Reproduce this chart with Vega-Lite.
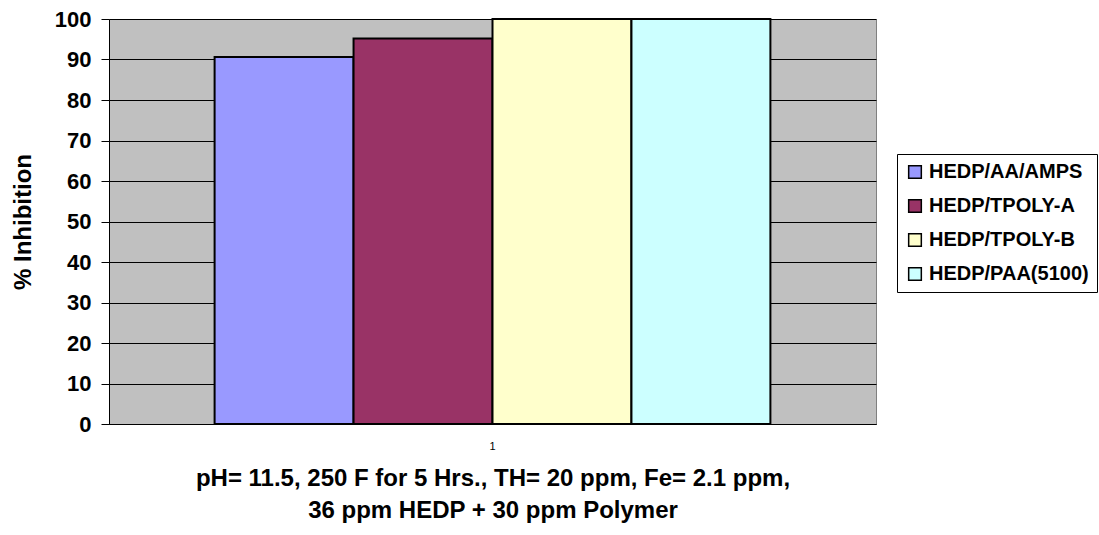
{
  "$schema": "https://vega.github.io/schema/vega-lite/v6.json",
  "width": 767,
  "height": 405,
  "autosize": {"type": "none"},
  "padding": {"left": 109, "top": 19, "right": 223, "bottom": 111},
  "background": "white",
  "config": {
    "view": {"fill": "#C0C0C0", "stroke": "#808080", "strokeWidth": 1},
    "font": "Liberation Sans"
  },
  "data": {
    "values": [
      {"cat": "1", "series": "HEDP/AA/AMPS", "value": 90.6},
      {"cat": "1", "series": "HEDP/TPOLY-A", "value": 95.2},
      {"cat": "1", "series": "HEDP/TPOLY-B", "value": 100},
      {"cat": "1", "series": "HEDP/PAA(5100)", "value": 100}
    ]
  },
  "mark": {"type": "bar", "stroke": "black", "strokeWidth": 2, "strokeJoin": "miter"},
  "encoding": {
    "x": {
      "field": "cat",
      "type": "nominal",
      "scale": {"paddingOuter": 0.19, "paddingInner": 0},
      "axis": {
        "labelAngle": 0,
        "labelFontSize": 11,
        "labelFontWeight": "normal",
        "labelColor": "black",
        "labelPadding": 16,
        "ticks": false,
        "domainColor": "black",
        "title": ["pH= 11.5, 250 F for 5 Hrs., TH= 20 ppm, Fe= 2.1 ppm,", "36 ppm HEDP + 30 ppm Polymer"],
        "titleFontSize": 24,
        "titleFontWeight": "bold",
        "titleColor": "black",
        "titleLineHeight": 32,
        "titlePadding": 15
      }
    },
    "xOffset": {
      "field": "series",
      "type": "nominal",
      "sort": ["HEDP/AA/AMPS", "HEDP/TPOLY-A", "HEDP/TPOLY-B", "HEDP/PAA(5100)"],
      "scale": {"paddingInner": 0, "paddingOuter": 0}
    },
    "y": {
      "field": "value",
      "type": "quantitative",
      "scale": {"domain": [0, 100], "nice": false},
      "axis": {
        "values": [0, 10, 20, 30, 40, 50, 60, 70, 80, 90, 100],
        "grid": true,
        "gridColor": "black",
        "gridOpacity": 1,
        "gridWidth": 1,
        "domainColor": "black",
        "tickColor": "black",
        "tickSize": 8,
        "labelFontSize": 22,
        "labelFontWeight": "bold",
        "labelColor": "black",
        "labelPadding": 10,
        "title": "% Inhibition",
        "titleFontSize": 24,
        "titleFontWeight": "bold",
        "titleColor": "black",
        "titlePadding": 19
      }
    },
    "fill": {
      "field": "series",
      "type": "nominal",
      "sort": ["HEDP/AA/AMPS", "HEDP/TPOLY-A", "HEDP/TPOLY-B", "HEDP/PAA(5100)"],
      "scale": {
        "domain": ["HEDP/AA/AMPS", "HEDP/TPOLY-A", "HEDP/TPOLY-B", "HEDP/PAA(5100)"],
        "range": ["#9999FF", "#993366", "#FFFFCC", "#CCFFFF"]
      },
      "legend": {
        "title": null,
        "orient": "none",
        "legendX": 788,
        "legendY": 135,
        "symbolType": "square",
        "symbolSize": 160,
        "symbolStrokeColor": "black",
        "symbolStrokeWidth": 1.5,
        "symbolOpacity": 1,
        "labelFontSize": 20,
        "labelFontWeight": "bold",
        "labelColor": "black",
        "labelOffset": 4,
        "rowPadding": 14,
        "padding": 8,
        "strokeColor": "black",
        "fillColor": "white",
        "labelLimit": 300
      }
    }
  }
}
